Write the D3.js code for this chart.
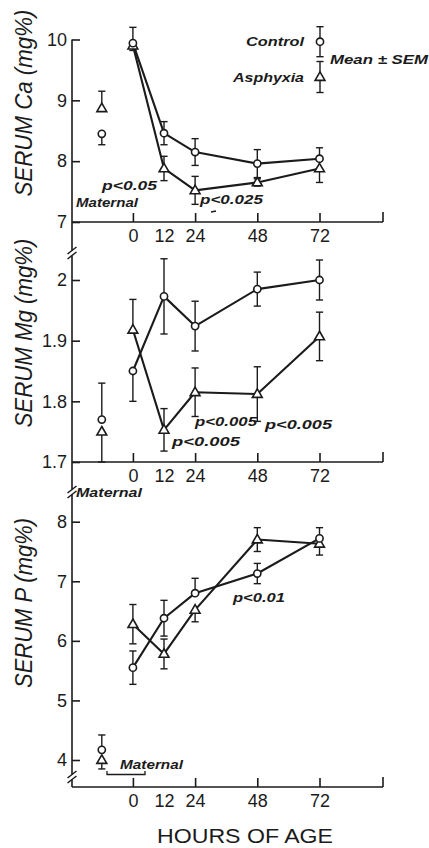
<!DOCTYPE html>
<html>
<head>
<meta charset="utf-8">
<script src="https://cdn.jsdelivr.net/npm/d3@7"></script>
<style>
  html, body { margin: 0; padding: 0; background: #fff; }
  svg { display: block; }
</style>
</head>
<body>
<script>
// Sampling times (hours of age); the maternal column sits left of hour 0
const hours = [0, 12, 24, 48, 72];
const hourTickMarks = [0, 24, 48, 72];
const maternalHour = -12;
const seriesNames = ["Control", "Asphyxia"];

// Serum calcium (mg%), mean and SEM
const caControlMean   = [9.94, 8.46, 8.15, 7.96, 8.04];
const caControlSem    = [0.26, 0.19, 0.22, 0.23, 0.18];
const caAsphyxiaMean  = [9.90, 7.88, 7.52, 7.65, 7.88];
const caAsphyxiaSem   = [0.08, 0.20, 0.23, 0.06, 0.23];
const caMaternalMean  = [8.45, 8.87];   // [control, asphyxia]
const caMaternalSem   = [0.18, 0.28];

// Serum magnesium (mg%)
const mgControlMean   = [1.850, 1.973, 1.924, 1.985, 2.000];
const mgControlSem    = [0.050, 0.062, 0.041, 0.028, 0.033];
const mgAsphyxiaMean  = [1.918, 1.753, 1.815, 1.812, 1.907];
const mgAsphyxiaSem   = [0.050, 0.035, 0.040, 0.045, 0.040];
const mgMaternalMean  = [1.77, 1.75];
const mgMaternalSem   = [0.06, 0.05];

// Serum phosphorus (mg%)
const pControlMean    = [5.55, 6.38, 6.80, 7.13, 7.72];
const pControlSem     = [0.28, 0.30, 0.25, 0.17, 0.18];
const pAsphyxiaMean   = [6.28, 5.78, 6.52, 7.70, 7.63];
const pAsphyxiaSem    = [0.33, 0.25, 0.20, 0.20, 0.19];
const pMaternalMean   = [4.17, 4.00];
const pMaternalSem    = [0.25, 0.15];

// Axis ticks
const caTicks = [7, 8, 9, 10];
const mgTicks = [1.7, 1.8, 1.9, 2.0];
const pTicks  = [4, 5, 6, 7, 8];

const W = 429, H = 848;
const ink = "#1b1b1b";
const numFont = "'Liberation Sans', Arial, sans-serif";

const svg = d3.select("body").append("svg")
  .attr("width", W).attr("height", H)
  .attr("viewBox", `0 0 ${W} ${H}`);

const axisLeftX = 72, axisRightX = 383;
const x = d3.scaleLinear().domain([-23.5, 96.5]).range([axisLeftX, axisRightX]);

const panels = [
  {
    title: "SERUM Ca (mg%)", titleY: 103, titleLen: 187,
    y: d3.scaleLinear().domain([7, 10]).range([222, 39.5]),
    baseY: 222, ticks: caTicks,
    control:  { mean: caControlMean,  sem: caControlSem },
    asphyxia: { mean: caAsphyxiaMean, sem: caAsphyxiaSem },
    maternal: { mean: caMaternalMean, sem: caMaternalSem }
  },
  {
    title: "SERUM Mg (mg%)", titleY: 333, titleLen: 189,
    y: d3.scaleLinear().domain([1.7, 2.0]).range([462, 280]),
    baseY: 462, ticks: mgTicks,
    control:  { mean: mgControlMean,  sem: mgControlSem },
    asphyxia: { mean: mgAsphyxiaMean, sem: mgAsphyxiaSem },
    maternal: { mean: mgMaternalMean, sem: mgMaternalSem }
  },
  {
    title: "SERUM P (mg%)", titleY: 603, titleLen: 170,
    y: d3.scaleLinear().domain([4, 8]).range([760, 521.7]),
    baseY: 787, ticks: pTicks,
    control:  { mean: pControlMean,  sem: pControlSem },
    asphyxia: { mean: pAsphyxiaMean, sem: pAsphyxiaSem },
    maternal: { mean: pMaternalMean, sem: pMaternalSem }
  }
];

// When the two bars at one time point overlap, each group only shows
// the half of its bar that points away from the other group.
function whiskerSides(mc, sc, ma, sa) {
  if (Math.abs(mc - ma) >= sc + sa) return [[true, true], [true, true]];
  return mc >= ma ? [[true, false], [false, true]] : [[false, true], [true, false]];
}

function errorBar(g, cx, y, mean, sem, up, down) {
  const cap = 3.6;
  const pts = [];
  if (up)   pts.push(mean + sem);
  if (down) pts.push(mean - sem);
  pts.forEach(v => {
    g.append("line").attr("x1", cx).attr("x2", cx)
      .attr("y1", y(mean)).attr("y2", y(v));
    g.append("line").attr("x1", cx - cap).attr("x2", cx + cap)
      .attr("y1", y(v)).attr("y2", y(v));
  });
}

const triangle = d3.symbol(d3.symbolTriangle, 42);

function circleMark(g, cx, cy) {
  g.append("circle").attr("cx", cx).attr("cy", cy).attr("r", 3.6)
    .attr("fill", "#fff").attr("stroke", ink).attr("stroke-width", 1.6);
}
function triangleMark(g, cx, cy) {
  g.append("path").attr("d", triangle)
    .attr("transform", `translate(${cx},${cy + 0.5})`)
    .attr("fill", "#fff").attr("stroke", ink).attr("stroke-width", 1.6)
    .attr("stroke-linejoin", "miter");
}

// Continuous left spine through all three panels
svg.append("line")
  .attr("x1", axisLeftX).attr("x2", axisLeftX)
  .attr("y1", 39.5).attr("y2", 787)
  .attr("stroke", ink).attr("stroke-width", 1.6);

panels.forEach(p => {
  const g = svg.append("g");

  // y axis: inward ticks, labels on the left
  const yAxis = g.append("g")
    .attr("transform", `translate(${axisLeftX},0)`)
    .call(d3.axisLeft(p.y).tickValues(p.ticks).tickSize(-8).tickPadding(5)
      .tickFormat(d => String(d)));
  yAxis.select(".domain").remove();
  yAxis.selectAll(".tick line").attr("stroke", ink).attr("stroke-width", 1.6);
  yAxis.selectAll(".tick text")
    .attr("fill", ink).attr("font-family", numFont).attr("font-size", 18);

  // x axis: upward ticks, hour labels below
  const xAxis = g.append("g")
    .attr("transform", `translate(0,${p.baseY})`)
    .call(d3.axisBottom(x).tickValues(hours).tickSize(-9).tickPadding(7)
      .tickFormat(d3.format("d")));
  xAxis.select(".domain").remove();
  xAxis.selectAll(".tick line")
    .attr("stroke", ink).attr("stroke-width", 1.6)
    .attr("opacity", d => hourTickMarks.includes(d) ? 1 : 0);
  xAxis.selectAll(".tick text")
    .attr("fill", ink).attr("font-family", numFont).attr("font-size", 18);

  g.append("line")
    .attr("x1", axisLeftX).attr("x2", axisRightX)
    .attr("y1", p.baseY).attr("y2", p.baseY)
    .attr("stroke", ink).attr("stroke-width", 1.6);
  g.append("line")
    .attr("x1", axisRightX).attr("x2", axisRightX)
    .attr("y1", p.baseY).attr("y2", p.baseY - 10)
    .attr("stroke", ink).attr("stroke-width", 1.6);

  // axis title
  g.append("text")
    .attr("transform", `translate(32,${p.titleY}) rotate(-90)`)
    .attr("text-anchor", "middle")
    .attr("font-family", numFont).attr("font-style", "italic")
    .attr("font-size", 23).attr("fill", ink)
    .attr("textLength", p.titleLen).attr("lengthAdjust", "spacingAndGlyphs")
    .text(p.title);

  // connecting lines
  const line = d3.line().x((d, i) => x(hours[i])).y(d => p.y(d));
  [p.control.mean, p.asphyxia.mean].forEach(series => {
    g.append("path").datum(series)
      .attr("d", line).attr("fill", "none")
      .attr("stroke", ink).attr("stroke-width", 2.1)
      .attr("stroke-linejoin", "round");
  });

  // error bars
  const eb = g.append("g").attr("stroke", ink).attr("stroke-width", 1.4);
  hours.forEach((h, i) => {
    const mc = p.control.mean[i], sc = p.control.sem[i];
    const ma = p.asphyxia.mean[i], sa = p.asphyxia.sem[i];
    const [cs, as] = whiskerSides(mc, sc, ma, sa);
    errorBar(eb, x(h), p.y, mc, sc, cs[0], cs[1]);
    errorBar(eb, x(h), p.y, ma, sa, as[0], as[1]);
  });
  {
    const [mc, ma] = p.maternal.mean, [sc, sa] = p.maternal.sem;
    const [cs, as] = whiskerSides(mc, sc, ma, sa);
    errorBar(eb, x(maternalHour), p.y, mc, sc, cs[0], cs[1]);
    errorBar(eb, x(maternalHour), p.y, ma, sa, as[0], as[1]);
  }

  // markers
  hours.forEach((h, i) => {
    triangleMark(g, x(h), p.y(p.asphyxia.mean[i]));
    circleMark(g, x(h), p.y(p.control.mean[i]));
  });
  circleMark(g, x(maternalHour), p.y(p.maternal.mean[0]));
  triangleMark(g, x(maternalHour), p.y(p.maternal.mean[1]));
});

// axis breaks on the left spine
function axisBreak(cy) {
  const cx = axisLeftX;
  svg.append("rect").attr("x", cx - 3).attr("y", cy - 2.5)
    .attr("width", 6).attr("height", 5).attr("fill", "#fff");
  [-2.5, 2.5].forEach(dy => {
    svg.append("line")
      .attr("x1", cx - 4.5).attr("y1", cy + dy + 3.5)
      .attr("x2", cx + 4.5).attr("y2", cy + dy - 3.5)
      .attr("stroke", ink).attr("stroke-width", 1.5);
  });
}
[253, 492, 777].forEach(axisBreak);

// italic annotations
const noteFont = "'Liberation Sans', Arial, sans-serif";
function note(txt, x0, y0, len, anchor) {
  svg.append("text")
    .attr("x", x0).attr("y", y0)
    .attr("text-anchor", anchor || "start")
    .attr("font-family", noteFont).attr("font-style", "italic")
    .attr("font-weight", "bold").attr("font-size", 13)
    .attr("fill", ink)
    .attr("textLength", len).attr("lengthAdjust", "spacingAndGlyphs")
    .text(txt);
}
note("p<0.05", 102, 190, 55);
note("Maternal", 76, 207, 62);
note("p<0.025", 200, 204, 63);
svg.append("line").attr("x1", 211).attr("x2", 216).attr("y1", 212).attr("y2", 211)
  .attr("stroke", ink).attr("stroke-width", 1.4);

note("p<0.005", 195, 426, 62);
note("p<0.005", 265, 429, 67);
note("p<0.005", 172, 446, 68);
note("Maternal", 76, 497, 66);

note("p<0.01", 233, 602, 52);
note("Maternal", 120, 769, 63);
svg.append("path")
  .attr("d", "M107,771 L107,774.5 L145,774.5 L145,771")
  .attr("fill", "none").attr("stroke", ink).attr("stroke-width", 1.3);

// legend: one mark with its SEM bar per group
const lg = svg.append("g");
const lx = 320;
const lgBars = lg.append("g").attr("stroke", ink).attr("stroke-width", 1.4);
[[41.7, 15], [77, 15.5]].forEach(([cy, half]) => {
  lgBars.append("line").attr("x1", lx).attr("x2", lx).attr("y1", cy - half).attr("y2", cy + half);
  lgBars.append("line").attr("x1", lx - 3.6).attr("x2", lx + 3.6).attr("y1", cy - half).attr("y2", cy - half);
  lgBars.append("line").attr("x1", lx - 3.6).attr("x2", lx + 3.6).attr("y1", cy + half).attr("y2", cy + half);
});
circleMark(lg, lx, 41.7);
triangleMark(lg, lx, 77);
note(seriesNames[0], 304, 46, 58, "end");
note(seriesNames[1], 304, 82, 71, "end");
note("Mean \u00b1 SEM", 330, 64, 98);

// x axis title
svg.append("text")
  .attr("x", 245).attr("y", 843).attr("text-anchor", "middle")
  .attr("font-family", numFont).attr("font-size", 20).attr("fill", ink)
  .attr("textLength", 176).attr("lengthAdjust", "spacingAndGlyphs")
  .text("HOURS  OF  AGE");
</script>
</body>
</html>
